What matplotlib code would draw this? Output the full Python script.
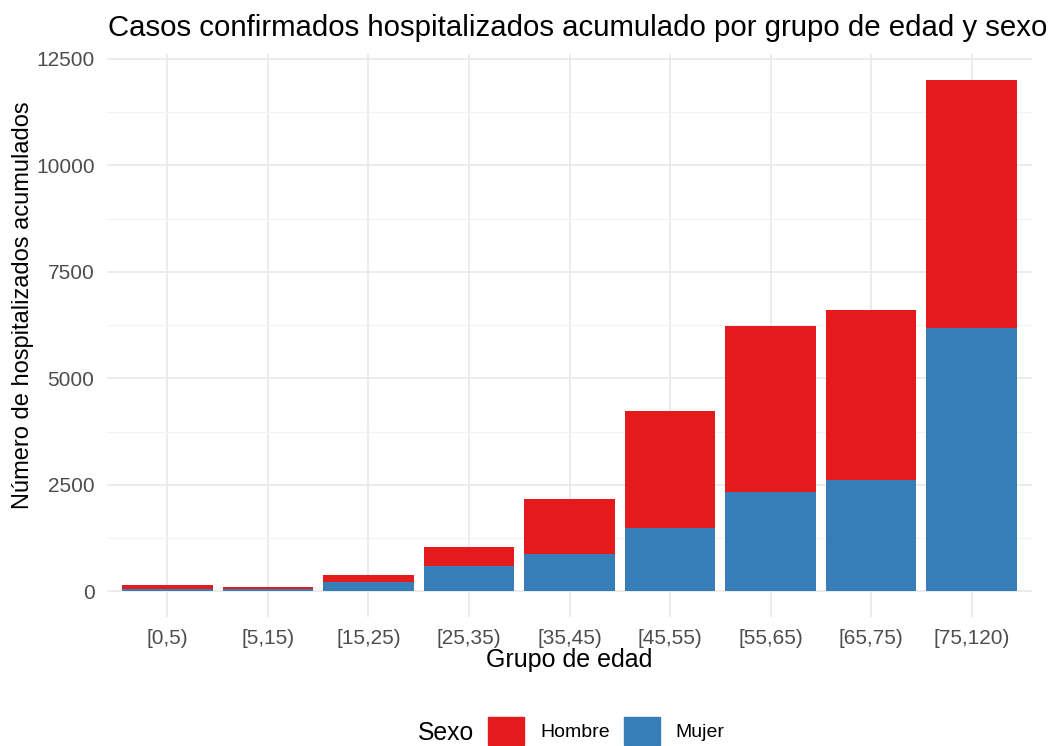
import matplotlib
matplotlib.use("Agg")
import matplotlib.pyplot as plt
from matplotlib.patches import Patch
import numpy as np

grupos = ["[0,5)", "[5,15)", "[15,25)", "[25,35)", "[35,45)", "[45,55)",
          "[55,65)", "[65,75)", "[75,120)"]
mujer = [65, 50, 220, 590, 875, 1480, 2340, 2610, 6180]
total = [160, 110, 390, 1040, 2160, 4230, 6230, 6600, 12010]
hombre = [t - m for t, m in zip(total, mujer)]

col_h = "#E41A1C"
col_m = "#377EB8"

plt.rcParams['font.family'] = ['Liberation Sans', 'DejaVu Sans']

W, H = 1050, 746
fig = plt.figure(figsize=(10.5, 7.46), dpi=100)
ax = fig.add_axes([107/W, 1-617/H, (1032-107)/W, (617-54)/H])

x = np.arange(1, len(grupos) + 1)
ax.bar(x, mujer, width=0.9, color=col_m, zorder=3)
ax.bar(x, hombre, bottom=mujer, width=0.9, color=col_h, zorder=3)

ax.set_xlim(0.4, len(grupos) + 0.6)
ymax = max(total)
ax.set_ylim(-0.05 * ymax, 1.05 * ymax)
ax.set_yticks([0, 2500, 5000, 7500, 10000, 12500])
ax.set_yticks([1250, 3750, 6250, 8750, 11250], minor=True)
ax.set_xticks(x)
ax.set_xticklabels(grupos)

ax.grid(which='major', color='#EBEBEB', linewidth=1.3, zorder=0)
ax.grid(which='minor', axis='y', color='#F2F2F2', linewidth=0.8, zorder=0)
for s in ax.spines.values():
    s.set_visible(False)
ax.tick_params(which='both', length=0)
ax.tick_params(axis='y', labelsize=15, labelcolor='#4D4D4D', pad=9)
ax.tick_params(axis='x', labelsize=15, labelcolor='#4D4D4D', pad=9)

ax.set_xlabel("Grupo de edad", fontsize=18, labelpad=0)
fig.text(23/W, 1-305/H, "Número de hospitalizados acumulados", fontsize=17,
         rotation=90, ha='center', va='center')
fig.text(108/W, 1-36/H,
         "Casos confirmados hospitalizados acumulado por grupo de edad y sexo",
         fontsize=21.2, ha='left', va='baseline')

handles = [Patch(color=col_h), Patch(color=col_m)]
fig.text(418/W, 1-740/H, "Sexo", fontsize=17.8, va='baseline', ha='left')
fig.legend(handles, ["Hombre", "Mujer"], ncol=2, frameon=False,
           loc='center left', bbox_to_anchor=(488/W, 1-731/H),
           borderaxespad=0, borderpad=0,
           fontsize=14, handlelength=1.85, handleheight=1.85,
           columnspacing=0.72, handletextpad=0.82)

fig.savefig("out.png", dpi=100)
